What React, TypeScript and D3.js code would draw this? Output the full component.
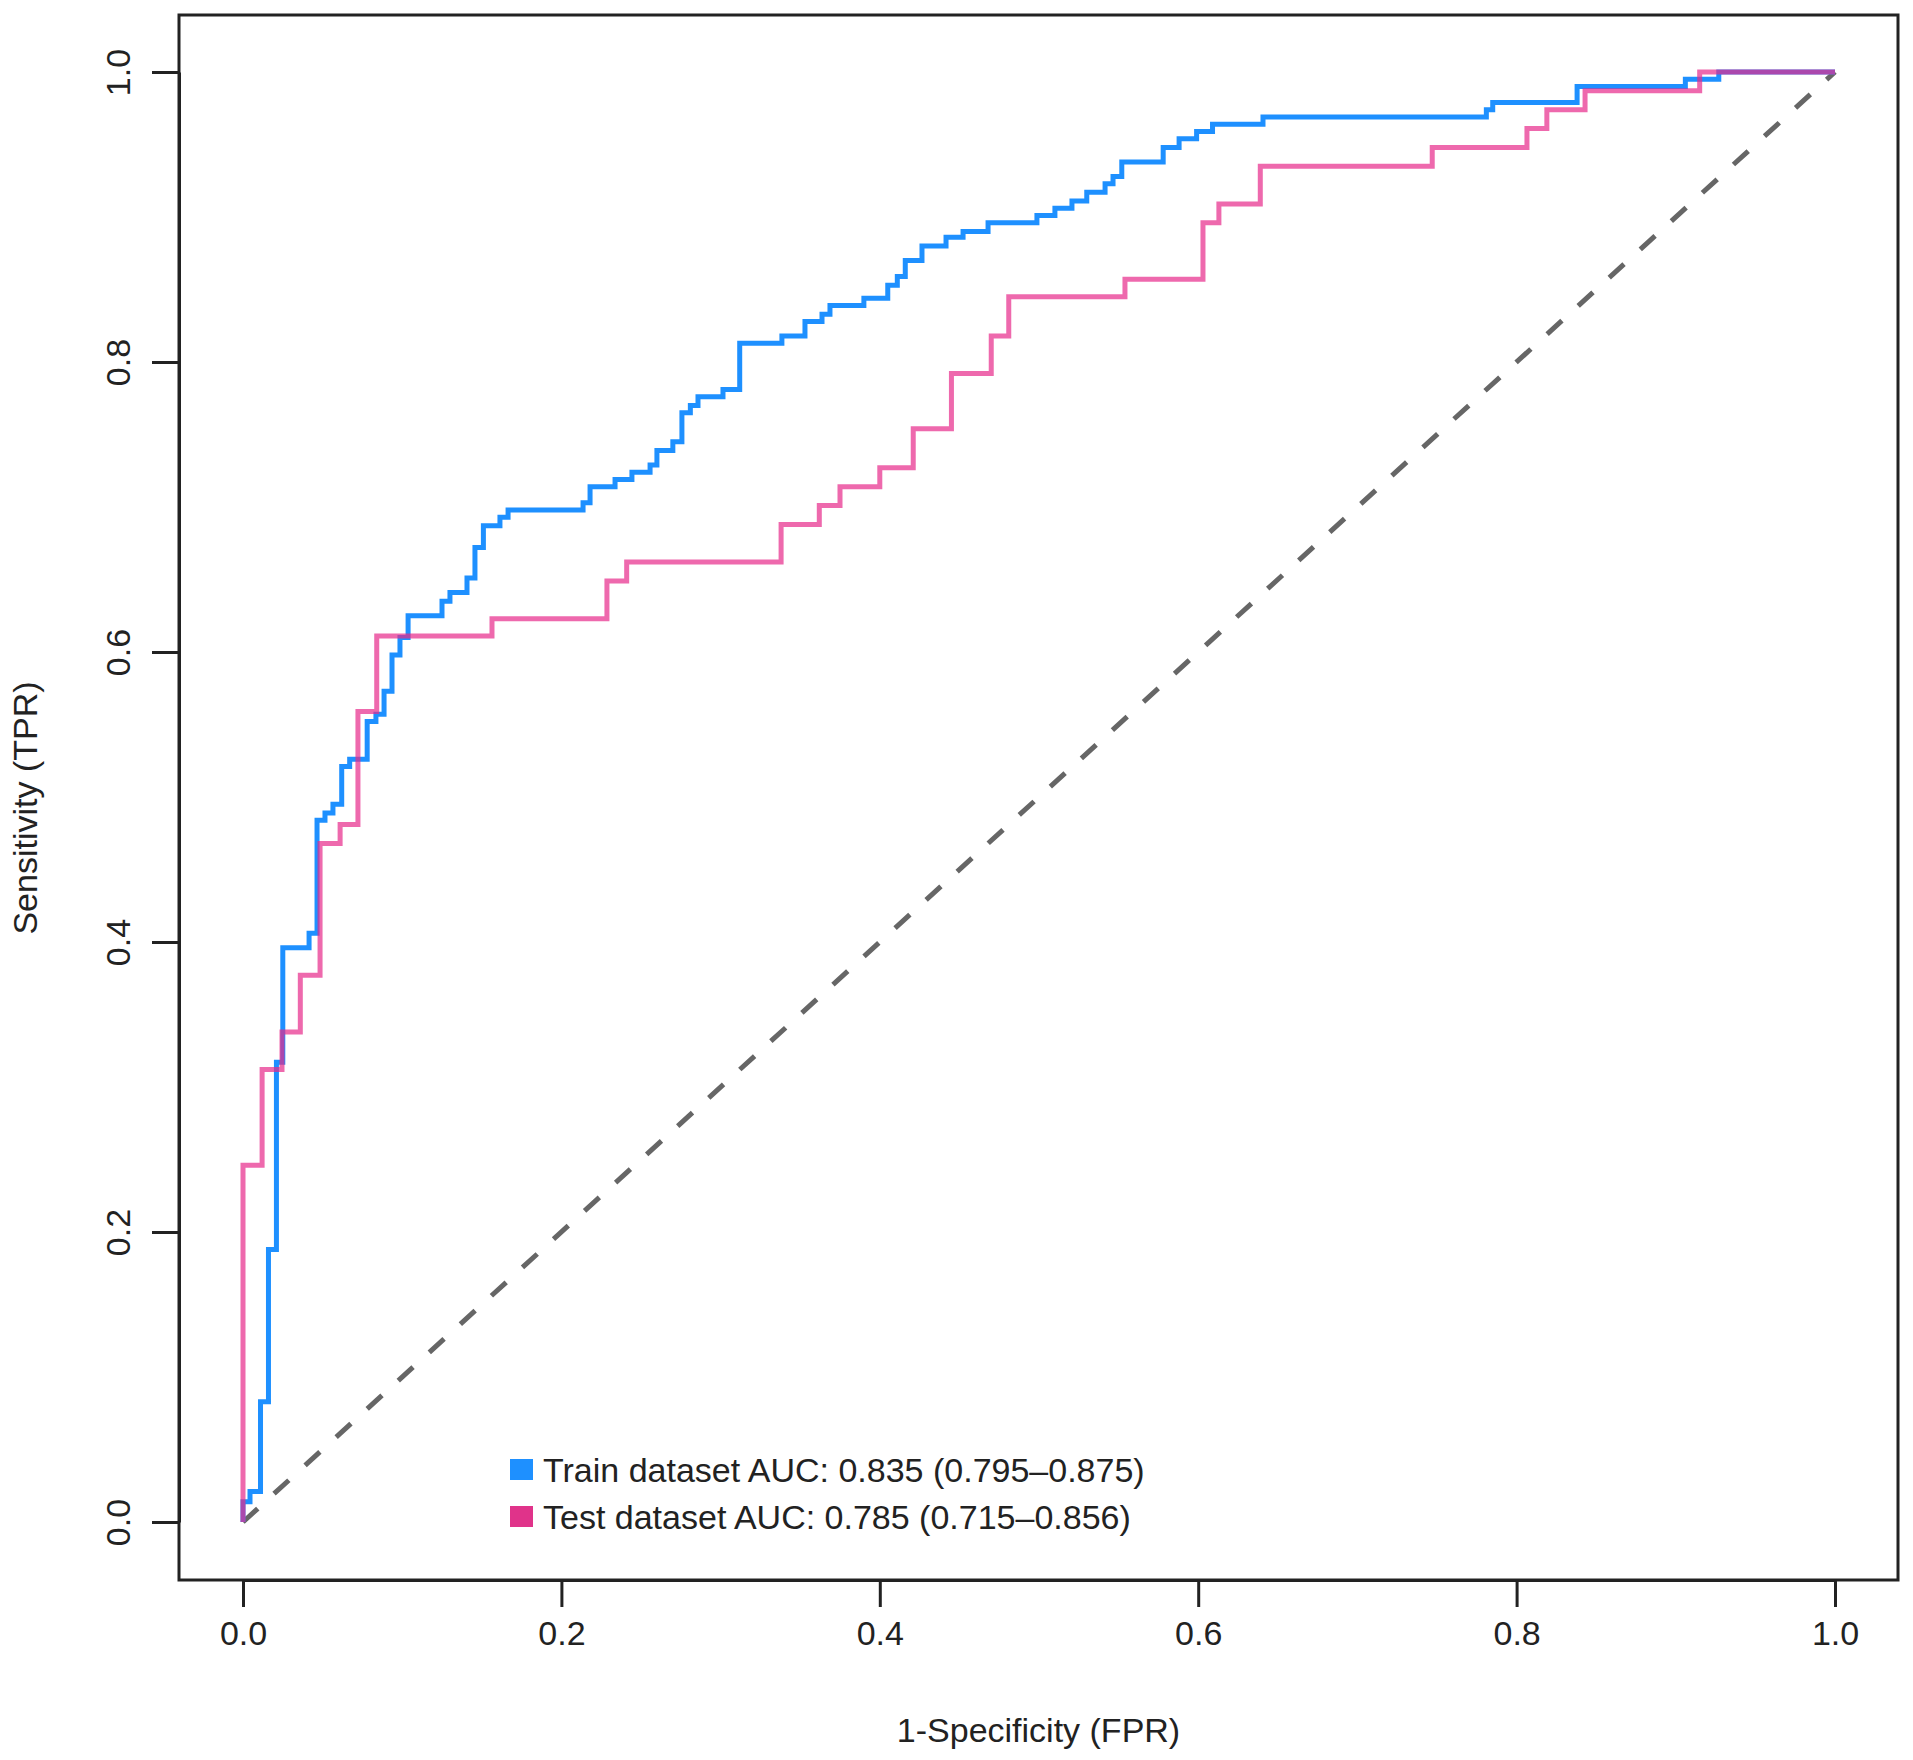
import { useEffect, useRef } from 'react';
import * as d3 from 'd3';

// ROC corner points: fpr where the curve jumps up, tpr after the jump
const trainFpr = [
    0, 0, 0.0044, 0.011, 0.016, 0.021, 0.025, 0.0415, 0.0465, 0.0515, 0.0565, 0.062, 0.067, 0.078,
    0.0835, 0.0886, 0.0936, 0.0986, 0.1037, 0.125, 0.13, 0.1407, 0.1457, 0.151, 0.1614, 0.1665,
    0.2136, 0.218, 0.2337, 0.2443, 0.2557, 0.26, 0.27, 0.2757, 0.281, 0.2858, 0.3015, 0.312, 0.3385,
    0.353, 0.3637, 0.3687, 0.39, 0.405, 0.411, 0.416, 0.4265, 0.4416, 0.4523, 0.468, 0.4987, 0.51,
    0.5207, 0.53, 0.5415, 0.5465, 0.552, 0.578, 0.588, 0.599, 0.609, 0.6407, 0.781, 0.785, 0.838,
    0.906, 0.927, 1.0,
];
const trainTpr = [
    0, 0.014, 0.021, 0.083, 0.188, 0.317, 0.396, 0.406, 0.484, 0.489, 0.495, 0.521, 0.526, 0.552,
    0.557, 0.573, 0.598, 0.61, 0.625, 0.635, 0.641, 0.651, 0.672, 0.687, 0.693, 0.698,
    0.703, 0.714, 0.719, 0.724, 0.729, 0.739, 0.745, 0.765, 0.77, 0.776, 0.781, 0.813, 0.818,
    0.828, 0.833, 0.839, 0.844, 0.853, 0.859, 0.87, 0.88, 0.886, 0.89, 0.896, 0.901, 0.906,
    0.911, 0.917, 0.923, 0.928, 0.938, 0.948, 0.954, 0.959, 0.964, 0.969, 0.974, 0.979, 0.99,
    0.995, 1.0, 1.0,
];

const testFpr = [
    0, 0, 0.012, 0.0245, 0.036, 0.0484, 0.061, 0.0722, 0.084, 0.1564, 0.2286, 0.241, 0.338, 0.362,
    0.375, 0.4, 0.421, 0.445, 0.47, 0.481, 0.554, 0.603, 0.613, 0.639, 0.747, 0.8065, 0.819, 0.843,
    0.915, 1.0,
];
const testTpr = [
    0, 0.246, 0.312, 0.338, 0.377, 0.468, 0.481, 0.559, 0.611, 0.623, 0.649, 0.662, 0.688, 0.701,
    0.714, 0.727, 0.754, 0.792, 0.818, 0.845, 0.857, 0.896, 0.909, 0.935, 0.948, 0.961, 0.974, 0.987,
    1.0, 1.0,
];

const legendLabels = [
    'Train dataset AUC: 0.835 (0.795\u20130.875)',
    'Test dataset AUC: 0.785 (0.715\u20130.856)',
];
const tickValues = [0, 0.2, 0.4, 0.6, 0.8, 1.0];

const WIDTH = 1913;
const HEIGHT = 1760;
const FONT = "'Liberation Sans', Arial, Helvetica, sans-serif";
const INK = '#222222';

export default function App() {
    const svgRef = useRef<SVGSVGElement>(null);

    useEffect(() => {
        if (!svgRef.current) return;

        const svg = d3.select(svgRef.current);
        svg.selectAll('*').remove();

        // plot box and data range (pixels)
        const box = { left: 179, right: 1898, top: 15, bottom: 1580 };
        const x = d3.scaleLinear().domain([0, 1]).range([243, 1835]);
        const y = d3.scaleLinear().domain([0, 1]).range([1522, 72]);

        svg.append('rect')
            .attr('width', WIDTH)
            .attr('height', HEIGHT)
            .attr('fill', 'white');

        // diagonal reference
        svg.append('line')
            .attr('x1', x(0))
            .attr('y1', y(0))
            .attr('x2', x(1))
            .attr('y2', y(1))
            .attr('stroke', '#666666')
            .attr('stroke-width', 5)
            .attr('stroke-dasharray', '20 22');

        const line = d3
            .line<[number, number]>()
            .x((d) => x(d[0]))
            .y((d) => y(d[1]))
            .curve(d3.curveStepAfter);

        const trainPts = trainFpr.map((f, i) => [f, trainTpr[i]] as [number, number]);
        const testPts = testFpr.map((f, i) => [f, testTpr[i]] as [number, number]);

        svg.append('path')
            .datum(trainPts)
            .attr('d', line)
            .attr('fill', 'none')
            .attr('stroke', '#1E90FF')
            .attr('stroke-width', 5)
            .attr('stroke-linejoin', 'miter');

        svg.append('path')
            .datum(testPts)
            .attr('d', line)
            .attr('fill', 'none')
            .attr('stroke', '#E7298A')
            .attr('stroke-opacity', 0.7)
            .attr('stroke-width', 5)
            .attr('stroke-linejoin', 'miter');

        // box
        svg.append('rect')
            .attr('x', box.left)
            .attr('y', box.top)
            .attr('width', box.right - box.left)
            .attr('height', box.bottom - box.top)
            .attr('fill', 'none')
            .attr('stroke', INK)
            .attr('stroke-width', 3);

        // x axis
        const gx = svg
            .append('g')
            .attr('transform', `translate(0,${box.bottom})`)
            .call(d3.axisBottom(x).tickValues(tickValues).tickFormat(d3.format('.1f')).tickSize(27).tickSizeOuter(0));
        gx.select('.domain').attr('stroke', INK).attr('stroke-width', 3);
        gx.selectAll('.tick line').attr('stroke', INK).attr('stroke-width', 3);
        gx.selectAll('.tick text')
            .attr('y', 65)
            .attr('dy', 0)
            .attr('fill', INK)
            .attr('font-size', 34)
            .attr('font-family', FONT);

        // y axis
        const gy = svg
            .append('g')
            .attr('transform', `translate(${box.left},0)`)
            .call(d3.axisLeft(y).tickValues(tickValues).tickFormat(d3.format('.1f')).tickSize(27).tickSizeOuter(0));
        gy.select('.domain').attr('stroke', INK).attr('stroke-width', 3);
        gy.selectAll('.tick line').attr('stroke', INK).attr('stroke-width', 3);
        gy.selectAll('.tick text')
            .attr('x', 0)
            .attr('dy', 0)
            .attr('transform', 'translate(-49,0) rotate(-90)')
            .attr('text-anchor', 'middle')
            .attr('fill', INK)
            .attr('font-size', 34)
            .attr('font-family', FONT);

        // axis titles
        svg.append('text')
            .attr('x', (box.left + box.right) / 2)
            .attr('y', 1742)
            .attr('text-anchor', 'middle')
            .attr('fill', INK)
            .attr('font-size', 34)
            .attr('font-family', FONT)
            .text('1-Specificity (FPR)');

        svg.append('text')
            .attr('transform', 'translate(37,808) rotate(-90)')
            .attr('text-anchor', 'middle')
            .attr('fill', INK)
            .attr('font-size', 34)
            .attr('font-family', FONT)
            .text('Sensitivity (TPR)');

        // legend
        const legendColors = ['#1E90FF', '#E0338A'];
        const legend = svg.append('g').attr('transform', 'translate(510,1470)');
        legendLabels.forEach((label, i) => {
            const row = legend.append('g').attr('transform', `translate(0,${i * 47})`);
            row.append('rect')
                .attr('x', 0)
                .attr('y', -11)
                .attr('width', 23)
                .attr('height', 21)
                .attr('fill', legendColors[i]);
            row.append('text')
                .attr('x', 33)
                .attr('y', 12)
                .attr('fill', INK)
                .attr('font-size', 34)
                .attr('font-family', FONT)
                .text(label);
        });
    }, []);

    return (
        <svg
            ref={svgRef}
            width={WIDTH}
            height={HEIGHT}
            style={{ position: 'absolute', left: 0, top: 0, display: 'block' }}
        ></svg>
    );
}
